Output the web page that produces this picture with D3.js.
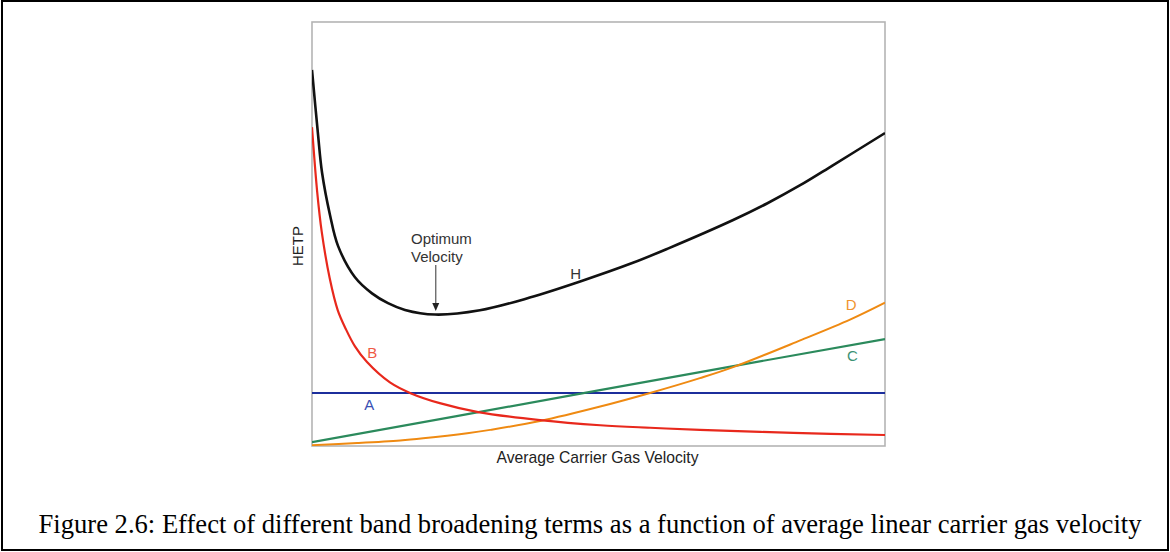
<!DOCTYPE html>
<html>
<head>
<meta charset="utf-8">
<script src="https://cdn.jsdelivr.net/npm/d3@7"></script>
<style>
  html, body { margin: 0; padding: 0; background: #fff; }
  svg { display: block; }
</style>
</head>
<body>
<svg id="chart" width="1170" height="552"></svg>
<script>
// Van Deemter terms vs. average carrier gas velocity (arbitrary units)
// A: eddy diffusion, B: longitudinal diffusion, C: mass transfer, D: extra term, H: total HETP
const velA = [0, 10];
const hetpA = [1.25, 1.25];

const velB = [0, 0.09, 0.17, 0.31, 0.45, 0.59, 0.75, 0.96, 1.36, 1.73, 2.23, 2.90, 3.98, 5.03, 5.90, 6.77, 8.4, 10];
const hetpB = [7.52, 6.00, 5.05, 3.95, 3.20, 2.76, 2.35, 1.98, 1.50, 1.24, 1.01, 0.80, 0.61, 0.49, 0.43, 0.38, 0.31, 0.26];

const velC = [0, 2.5, 5, 7.5, 10];
const hetpC = [0.09, 0.70, 1.31, 1.92, 2.52];

const velD = [0, 0.79, 1.54, 1.94, 2.71, 3.11, 3.98, 5.03, 5.90, 6.77, 7.35, 8.52, 9.39, 10];
const hetpD = [0.02, 0.07, 0.13, 0.18, 0.30, 0.38, 0.59, 0.93, 1.25, 1.60, 1.86, 2.49, 2.98, 3.38];

const velH = [0, 0.105, 0.175, 0.314, 0.454, 0.75, 1.047, 1.326, 1.623, 2.147, 2.93, 3.80, 4.68, 5.60, 6.20, 7.35, 7.94, 8.52, 9.09, 10];
const hetpH = [8.87, 7.35, 6.45, 5.45, 4.72, 3.98, 3.60, 3.37, 3.21, 3.10, 3.20, 3.50, 3.88, 4.32, 4.65, 5.33, 5.72, 6.15, 6.62, 7.38];

const seriesNames = ["A", "B", "C", "D", "H"];
const lineColors = { A: "#1c2e9c", B: "#e8281c", C: "#2b8a5c", D: "#ef8a12", H: "#111111" };
const labelColors = { A: "#3a4fb3", B: "#ef5a46", C: "#3c9273", D: "#f0932e", H: "#333333" };

const optimumLines = ["Optimum", "Velocity"];
const xTitle = "Average Carrier Gas Velocity";
const yTitle = "HETP";
const caption = "Figure 2.6: Effect of different band broadening terms as a function of average linear carrier gas velocity";

const zip = (us, vs) => us.map((u, i) => ({ u, v: vs[i] }));
const series = {
  A: zip(velA, hetpA),
  B: zip(velB, hetpB),
  C: zip(velC, hetpC),
  D: zip(velD, hetpD),
  H: zip(velH, hetpH)
};

const svg = d3.select("#chart");
const plot = { left: 312, top: 22, right: 885, bottom: 446 };

const x = d3.scaleLinear().domain([0, 10]).range([plot.left, plot.right]);
const y = d3.scaleLinear().domain([0, 10]).range([plot.bottom, plot.top]);

// outer figure border
svg.append("rect")
  .attr("x", 2).attr("y", 1)
  .attr("width", 1166).attr("height", 549)
  .attr("fill", "none").attr("stroke", "#000").attr("stroke-width", 2);

// plot frame
svg.append("rect")
  .attr("x", plot.left).attr("y", plot.top)
  .attr("width", plot.right - plot.left).attr("height", plot.bottom - plot.top)
  .attr("fill", "#fff").attr("stroke", "#b4b4b4").attr("stroke-width", 1.6);

svg.append("defs").append("clipPath").attr("id", "plotClip")
  .append("rect")
  .attr("x", plot.left).attr("y", plot.top)
  .attr("width", plot.right - plot.left).attr("height", plot.bottom - plot.top);

const g = svg.append("g").attr("clip-path", "url(#plotClip)");

const smooth = d3.line().x(d => x(d.u)).y(d => y(d.v)).curve(d3.curveCatmullRom.alpha(0.5));
const straight = d3.line().x(d => x(d.u)).y(d => y(d.v));

const widths = { A: 2.2, B: 2.2, C: 2.2, D: 2.0, H: 2.6 };
["A", "C", "D", "B", "H"].forEach(name => {
  g.append("path")
    .datum(series[name])
    .attr("fill", "none")
    .attr("stroke", lineColors[name])
    .attr("stroke-width", widths[name])
    .attr("stroke-linejoin", "round")
    .attr("d", (name === "A" || name === "C") ? straight : smooth);
});

// curve letters
const labelPos = {
  A: { u: 1.0, v: 0.99 },
  B: { u: 1.05, v: 2.2 },
  C: { u: 9.43, v: 2.13 },
  D: { u: 9.41, v: 3.33 },
  H: { u: 4.6, v: 4.08 }
};
seriesNames.forEach(name => {
  svg.append("text")
    .attr("x", x(labelPos[name].u))
    .attr("y", y(labelPos[name].v))
    .attr("text-anchor", "middle")
    .attr("dominant-baseline", "central")
    .attr("font-family", "Liberation Sans, Arial, sans-serif")
    .attr("font-size", 15)
    .attr("fill", labelColors[name])
    .text(name);
});

// optimum velocity annotation
const optU = 2.16;
const ann = svg.append("g");
optimumLines.forEach((t, i) => {
  ann.append("text")
    .attr("x", 411)
    .attr("y", 244 + i * 17.5)
    .attr("font-family", "Liberation Sans, Arial, sans-serif")
    .attr("font-size", 15)
    .attr("fill", "#333")
    .text(t);
});
ann.append("line")
  .attr("x1", x(optU)).attr("x2", x(optU))
  .attr("y1", 265).attr("y2", 305)
  .attr("stroke", "#555").attr("stroke-width", 1.2);
ann.append("path")
  .attr("d", `M${x(optU) - 3.5},303 L${x(optU) + 3.5},303 L${x(optU)},311 Z`)
  .attr("fill", "#222");

// axis titles
svg.append("text")
  .attr("x", 597.5)
  .attr("y", 463)
  .attr("text-anchor", "middle")
  .attr("font-family", "Liberation Sans, Arial, sans-serif")
  .attr("font-size", 15.7)
  .attr("fill", "#222")
  .text(xTitle);

svg.append("text")
  .attr("transform", "translate(303,246) rotate(-90)")
  .attr("text-anchor", "middle")
  .attr("font-family", "Liberation Sans, Arial, sans-serif")
  .attr("font-size", 15)
  .attr("fill", "#222")
  .text(yTitle);

// figure caption
svg.append("text")
  .attr("x", 590)
  .attr("y", 533)
  .attr("text-anchor", "middle")
  .attr("font-family", "Liberation Serif, Times New Roman, serif")
  .attr("font-size", 26.6)
  .attr("fill", "#000")
  .text(caption);
</script>
</body>
</html>
